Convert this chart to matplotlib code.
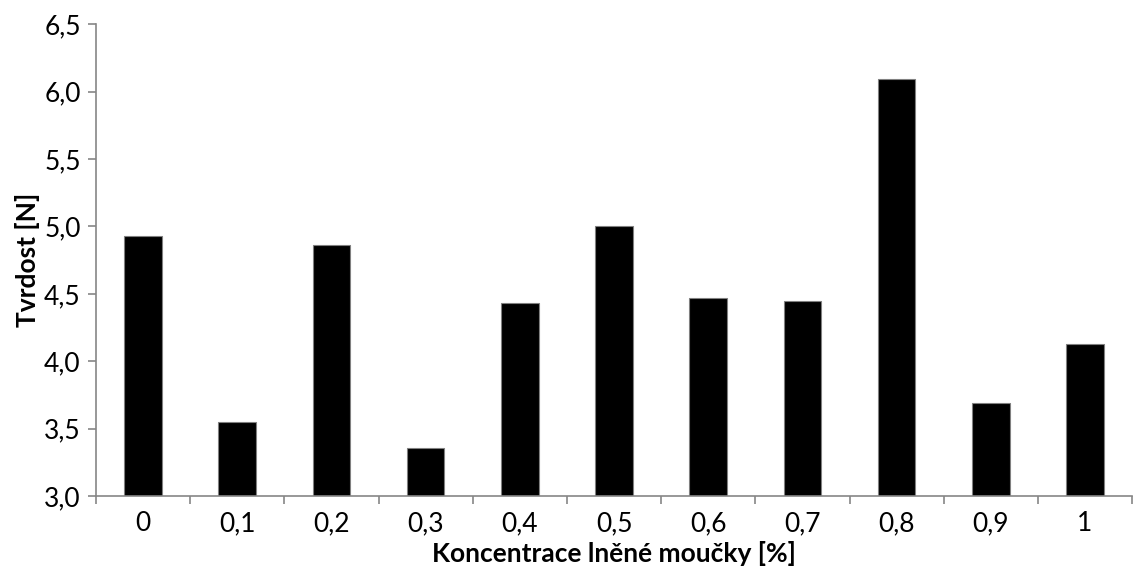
import numpy as np
import matplotlib.pyplot as plt
from matplotlib.ticker import FixedLocator

categories = ['0', '0,1', '0,2', '0,3', '0,4', '0,5', '0,6', '0,7', '0,8', '0,9', '1']
tvrdost = [4.93, 3.55, 4.86, 3.36, 4.43, 5.00, 4.47, 4.45, 6.09, 3.69, 4.13]
yticks = [3.0, 3.5, 4.0, 4.5, 5.0, 5.5, 6.0, 6.5]

plt.rcParams['font.family'] = ['Lato', 'DejaVu Sans']

fig = plt.figure(figsize=(11.33, 5.69), dpi=100)
ax = fig.add_axes([0.0847, 0.128, 0.9145, 0.8295])

x = np.arange(len(categories))
ax.bar(x, tvrdost, width=0.4, color='black', edgecolor='#808080', linewidth=0.8)

ax.set_xlim(-0.5, len(categories) - 0.5)
ax.set_ylim(3.0, 6.5)

ax.set_xticks(x)
ax.set_xticklabels(categories, fontsize=19)
ax.xaxis.set_minor_locator(FixedLocator(np.arange(-0.5, len(categories), 1.0)))
ax.tick_params(axis='x', which='major', length=0, pad=11)
ax.tick_params(axis='x', which='minor', length=6, width=1.2, color='#868686', direction='out')

ax.set_yticks(yticks)
ax.set_yticklabels([f'{v:.1f}'.replace('.', ',') for v in yticks], fontsize=19)
ax.tick_params(axis='y', length=6, width=1.2, color='#868686', direction='out', pad=5)

for side in ['top', 'right']:
    ax.spines[side].set_visible(False)
for side in ['left', 'bottom']:
    ax.spines[side].set_color('#868686')
    ax.spines[side].set_linewidth(1.2)

ax.set_xlabel('Koncentrace lněné moučky [%]', fontsize=19, fontweight='bold', labelpad=3)
ax.set_ylabel('Tvrdost [N]', fontsize=19, fontweight='bold', labelpad=3)

fig.savefig('out.png', dpi=100)
